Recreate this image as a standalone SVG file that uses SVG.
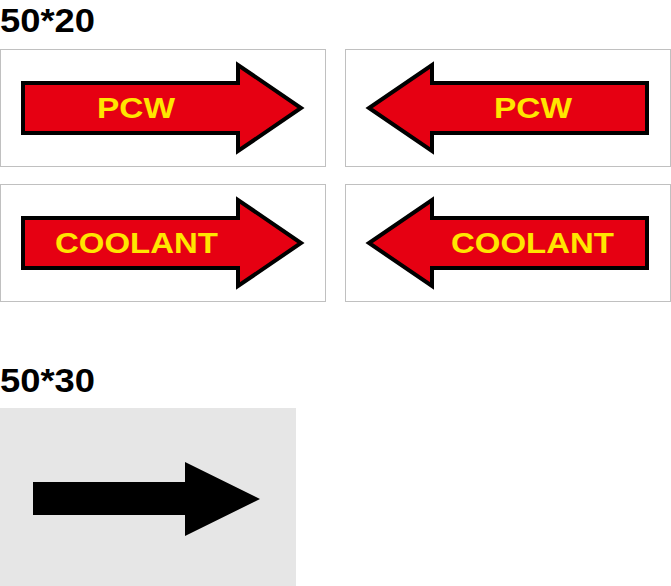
<svg xmlns="http://www.w3.org/2000/svg" width="671" height="586" viewBox="0 0 671 586">
<style>
.t{font-family:"Liberation Sans",Arial,sans-serif;font-weight:bold;font-size:33px;fill:#000}
.box{fill:#fff;stroke:#c0c0c0;stroke-width:1}
.arr{fill:#e60012;stroke:#000;stroke-width:4;stroke-linejoin:miter}
.lbl{font-family:"Liberation Sans",Arial,sans-serif;font-weight:bold;font-size:29px;fill:#ffe600}
</style>
<text class="t" x="0" y="32" textLength="95" lengthAdjust="spacingAndGlyphs">50*20</text>
<g id="pcw-right">
<rect class="box" x="0.5" y="49.5" width="325" height="117"/>
<polygon class="arr" points="23,83 238,83 238,65 301,108 238,151 238,133 23,133"/>
<text class="lbl" x="97" y="118" textLength="78" lengthAdjust="spacingAndGlyphs">PCW</text>
</g>
<g id="pcw-left">
<rect class="box" x="345.5" y="49.5" width="325" height="117"/>
<polygon class="arr" points="647,83 432,83 432,65 369,108 432,151 432,133 647,133"/>
<text class="lbl" x="494" y="118" textLength="78" lengthAdjust="spacingAndGlyphs">PCW</text>
</g>
<g id="coolant-right">
<rect class="box" x="0.5" y="184.5" width="325" height="117"/>
<polygon class="arr" points="23,218 238,218 238,200 301,243 238,286 238,268 23,268"/>
<text class="lbl" x="55" y="253" textLength="163" lengthAdjust="spacingAndGlyphs">COOLANT</text>
</g>
<g id="coolant-left">
<rect class="box" x="345.5" y="184.5" width="325" height="117"/>
<polygon class="arr" points="647,218 432,218 432,200 369,243 432,286 432,268 647,268"/>
<text class="lbl" x="451" y="253" textLength="163" lengthAdjust="spacingAndGlyphs">COOLANT</text>
</g>
<text class="t" x="0" y="392" textLength="95" lengthAdjust="spacingAndGlyphs">50*30</text>
<g id="black-arrow">
<rect x="0" y="408" width="296" height="178" fill="#e6e6e6"/>
<polygon points="33,482 185,482 185,462 260,499 185,536 185,515 33,515" fill="#000"/>
</g>
<g id="connectors"/>
</svg>
